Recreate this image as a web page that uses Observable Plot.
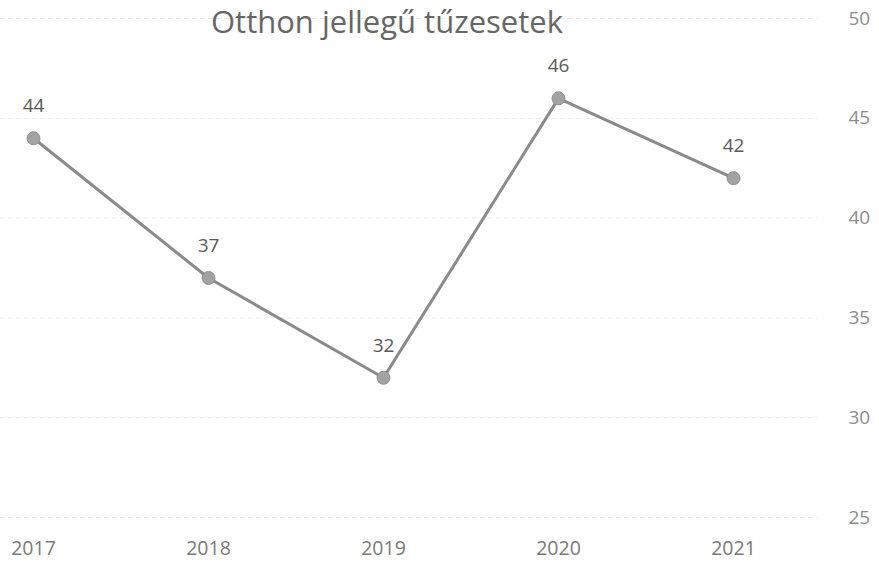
<!DOCTYPE html>
<html>
<head>
<meta charset="utf-8">
<script src="https://cdn.jsdelivr.net/npm/d3@7"></script>
<script src="https://cdn.jsdelivr.net/npm/@observablehq/plot@0.6"></script>
<style>
  html, body { margin: 0; padding: 0; background: #fff; }
  #chart svg { display: block; }
</style>
</head>
<body>
<div id="chart"></div>
<script>
const title = "Otthon jellegű tűzesetek";
const years = ["2017", "2018", "2019", "2020", "2021"];
const values = [44, 37, 32, 46, 42];
const yTicks = [25, 30, 35, 40, 45, 50];

const data = years.map((year, i) => ({year, value: values[i]}));
const font = "'Open Sans', sans-serif";

const chart = Plot.plot({
  width: 879,
  height: 563,
  marginLeft: 0,
  marginRight: 62,
  marginTop: 18,
  marginBottom: 46,
  style: {fontFamily: font, background: "#fff"},
  x: {type: "point", domain: years, range: [33, 733], padding: 0},
  y: {domain: [25, 50], range: [517, 18]},
  marks: [
    Plot.gridY(yTicks, {stroke: "#ebebeb", strokeOpacity: 1, strokeWidth: 1, strokeDasharray: "5,3"}),
    Plot.axisY(yTicks, {anchor: "right", tickSize: 0, tickPadding: 31, fontSize: 19, fill: "#8c8c8c", label: null}),
    Plot.axisX({anchor: "bottom", tickSize: 0, tickPadding: 24, fontSize: 19.5, fill: "#7a7a7a", label: null}),
    Plot.line(data, {x: "year", y: "value", stroke: "#8a8a8a", strokeWidth: 3}),
    Plot.dot(data, {x: "year", y: "value", r: 6.5, fill: "#a3a3a3", stroke: "#8f8f8f", strokeWidth: 1}),
    Plot.text(data, {x: "year", y: "value", text: d => String(d.value), dy: -32, fontSize: 19, fill: "#595959"}),
    Plot.text([title], {frameAnchor: "top", text: d => d, dx: -22, dy: 5, fontSize: 31, fill: "#666", lineAnchor: "middle"})
  ]
});
document.getElementById("chart").appendChild(chart);
</script>
</body>
</html>
